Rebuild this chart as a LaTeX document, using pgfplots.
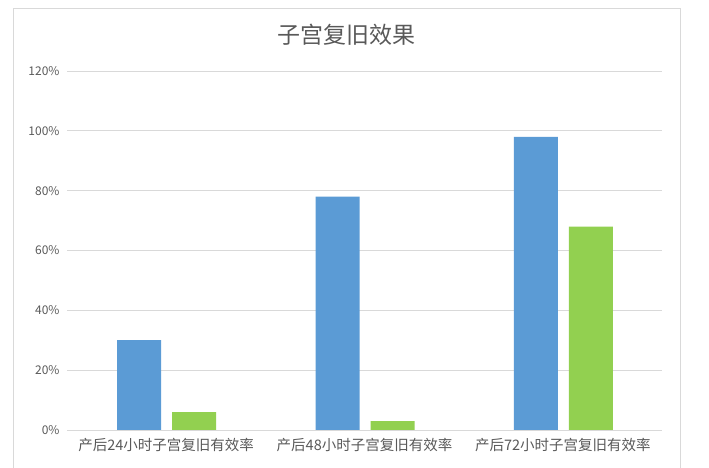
\documentclass[border=0pt]{standalone}
\usepackage{pgfplots}
\pgfplotsset{compat=1.18}
\usepackage{fontspec}
\setmainfont{Noto Sans CJK SC}
\definecolor{bblue}{HTML}{5B9BD5}
\definecolor{bgreen}{HTML}{92D050}
\definecolor{txt}{HTML}{595959}
\definecolor{gridc}{HTML}{D9D9D9}
\begin{document}
\begin{tikzpicture}[x=1pt,y=1pt]
\useasboundingbox (0,0) rectangle (709,468);
\draw[gridc, line width=1pt] (13.3,-2) -- (13.3,459.7) -- (680.3,459.7) -- (680.3,-2);
\node[text=txt, font=\fontsize{23}{23}\selectfont] at (346,433) {子宫复旧效果};
\begin{axis}[at={(67pt,38pt)}, anchor=south west, scale only axis, width=595pt, height=359pt,
 xmin=-0.5,xmax=2.5,ymin=0,ymax=120,
 ybar, bar width=44pt,
 xtick={0,1,2}, xticklabels={产后24小时子宫复旧有效率,产后48小时子宫复旧有效率,产后72小时子宫复旧有效率},
 ytick={0,20,40,60,80,100,120}, yticklabels={0\%,20\%,40\%,60\%,80\%,100\%,120\%},
 ymajorgrids, grid style={gridc, line width=0.8pt},
 axis line style={draw=none}, major tick length=0pt,
 tick label style={text=txt},
 xticklabel style={font=\fontsize{14.5}{15}\selectfont, yshift=-5pt},
 yticklabel style={font=\fontsize{12}{12}\selectfont, xshift=-4pt},
]
\addplot[fill=bblue, draw=none, bar shift=-27pt] coordinates {(0,30) (1,78) (2,98)};
\addplot[fill=bgreen, draw=none, bar shift=28pt] coordinates {(0,6) (1,3) (2,68)};
\end{axis}
\end{tikzpicture}
\end{document}
